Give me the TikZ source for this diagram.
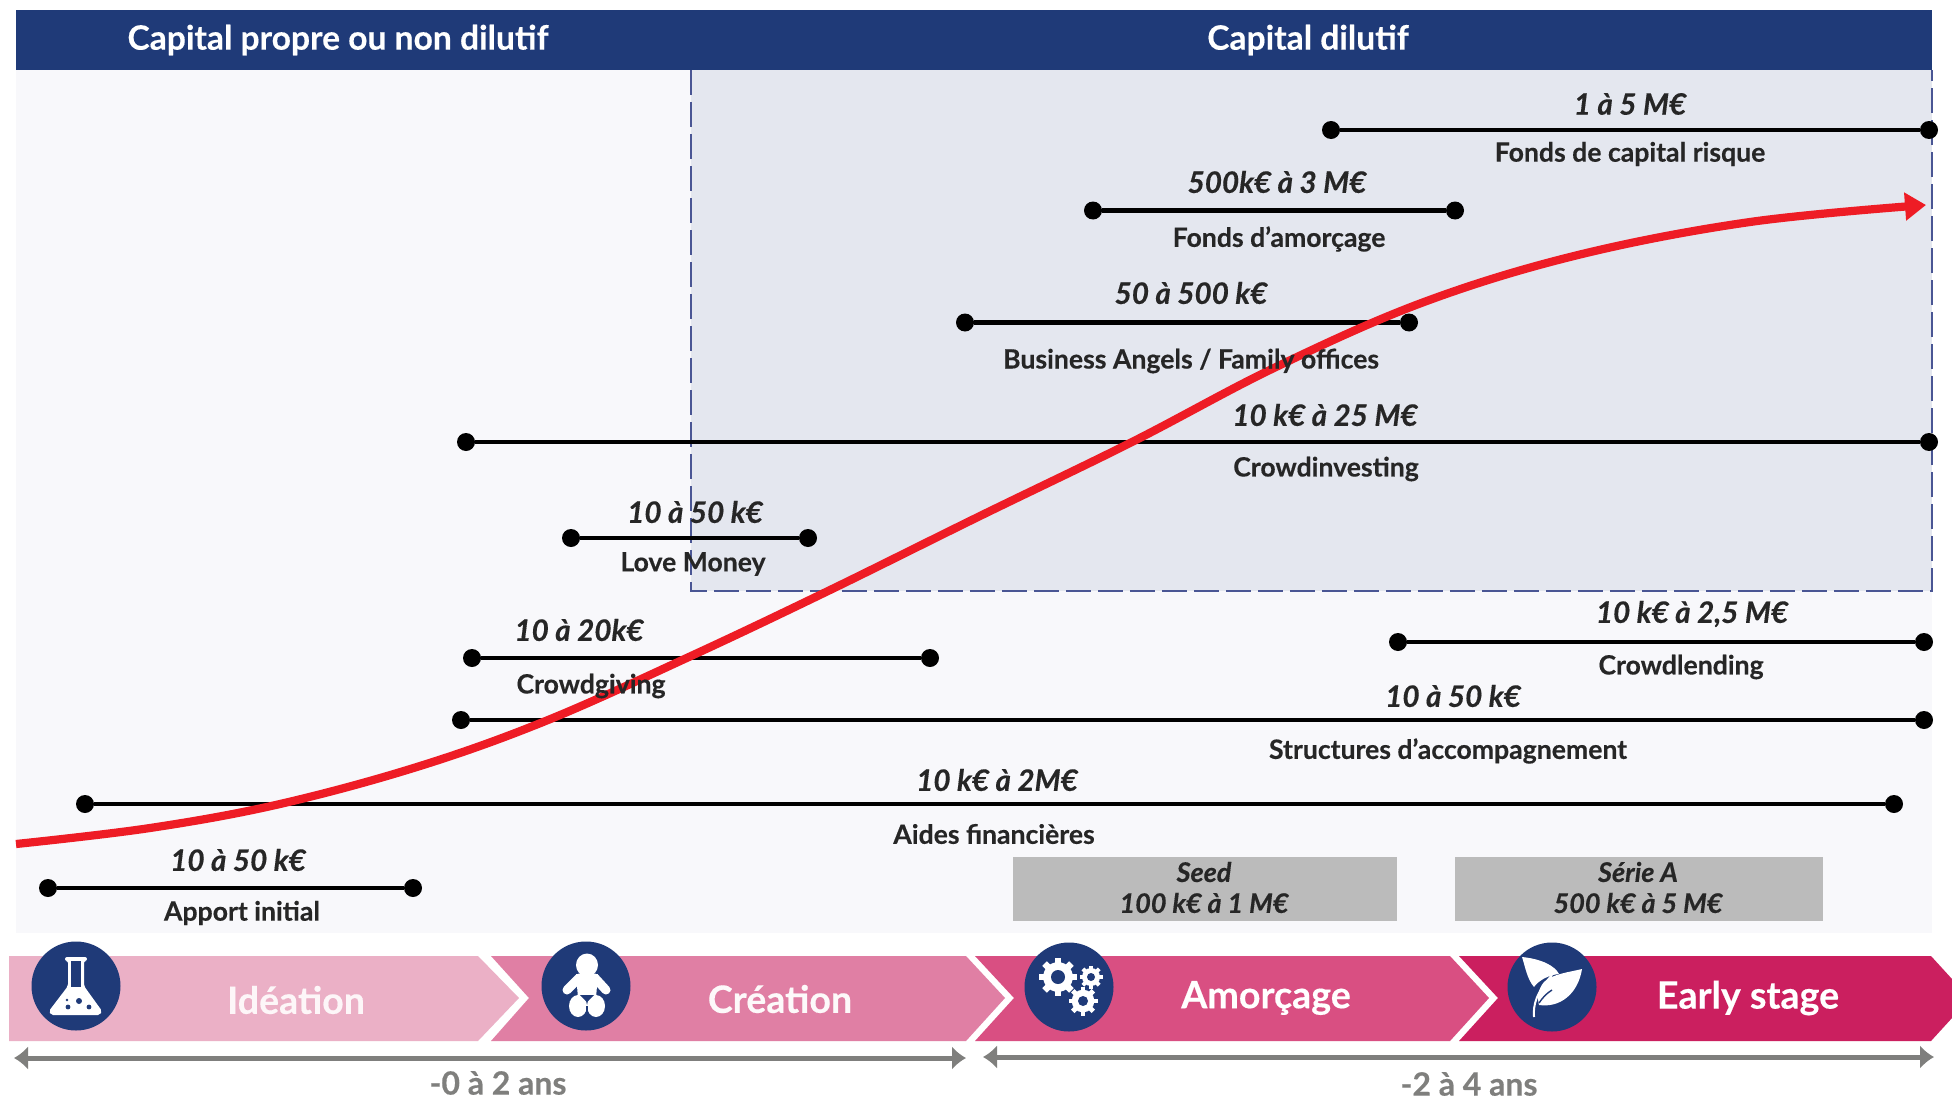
\documentclass[tikz,border=0pt]{standalone}
\usepackage{fontspec}
\setmainfont{Lato}[BoldFeatures={FakeBold=0.35},BoldItalicFeatures={FakeBold=0.35}]
\usetikzlibrary{arrows.meta}
\definecolor{navy}{HTML}{1F3A78}
\definecolor{panelA}{HTML}{F8F8FB}
\definecolor{panelB}{HTML}{E4E7EF}
\definecolor{dashc}{HTML}{4A5694}
\definecolor{stepA}{HTML}{EBB0C6}
\definecolor{stepB}{HTML}{E07FA4}
\definecolor{stepC}{HTML}{D94F82}
\definecolor{stepD}{HTML}{CB1F5F}
\definecolor{greyA}{HTML}{7F7F7D}
\definecolor{boxg}{HTML}{BBBBBB}
\definecolor{redc}{HTML}{EE1C25}
\tikzset{
 x=0.5pt,y=-0.5pt,
 dotnode/.style={circle,fill=black,inner sep=0pt,minimum size=9pt},
 rangeline/.style={draw=black,line width=2.2pt},
 amount/.style={font=\fontsize{14.8}{17}\selectfont\itshape\bfseries,text=black!85,inner sep=0pt},
 fund/.style={font=\fontsize{13.3}{15}\selectfont\bfseries,text=black!85,inner sep=0pt},
 head/.style={font=\fontsize{16.8}{19}\selectfont\bfseries,text=white,inner sep=0pt},
 stagelabel/.style={font=\fontsize{18.8}{21}\selectfont\bfseries,text=white,inner sep=0pt},
 dur/.style={font=\fontsize{16}{18}\selectfont\bfseries,text=greyA,inner sep=0pt},
 iconbg/.style={circle,fill=navy,inner sep=0pt,minimum size=44.5pt},
 roundbox/.style={fill=boxg,inner sep=0pt},
 roundtext/.style={inner sep=0pt,text=black!85,font=\fontsize{13.5}{15.5}\selectfont\itshape\bfseries},
 dura/.style={draw=greyA,line width=2.5pt,{Latex[length=7pt,width=12pt]}-{Latex[length=7pt,width=12pt]}},
}
\newcommand{\rng}[4]{%
 \node[dotnode] (#1a) at (#2,#4) {};
 \node[dotnode] (#1b) at (#3,#4) {};
 \draw[rangeline] (#1a) -- (#1b);
}
\begin{document}
\begin{tikzpicture}
\useasboundingbox (0,0) rectangle (1952,1097);
\fill[white] (0,0) rectangle (1952,1097);
% panels
\fill[panelA] (16,70) rectangle (1932,933);
\fill[panelB] (691,70) rectangle (1932,591);
\draw[dashc,line width=1.4pt,dash pattern=on 12.5pt off 3.5pt] (691,70) -- (691,591) -- (1932,591) -- (1932,70);
% header
\node[fill=navy,minimum width=958pt,minimum height=30pt,inner sep=0pt,anchor=north west] (hdr) at (16,10) {};
\node[head] (h1) at (338,40) {Capital propre ou non dilutif};
\node[head] (h2) at (1308,40) {Capital dilutif};
% ranges
\rng{r1}{1331}{1929}{130}
\rng{r2}{1093}{1455}{210.5}
\rng{r3}{965}{1409}{322.5}
\rng{r4}{466}{1929}{442}
\rng{r5}{571}{808}{538}
\rng{r6}{472}{930}{658}
\rng{r7}{1398}{1924}{642}
\rng{r8}{461}{1924}{720}
\rng{r9}{85}{1894}{804}
\rng{r10}{48}{413}{888}
% growth curve
\draw[redc,line width=4.1pt,-{Triangle[length=10.5pt,width=13.5pt]}]
 plot[smooth,tension=0.6] coordinates {(16,844) (150,828) (280,804) (420,766) (548,720) (691,656) (828,591) (980,516) (1132,442) (1276,367) (1424,302) (1578,255) (1750,222) (1926,205)};
% amounts and funds
\node[amount] (t1) at (1630,104) {1 à 5 M€};
\node[fund] (f1) at (1630,154) {Fonds de capital risque};
\node[amount] (t2) at (1277,182) {500k€ à 3 M€};
\node[fund] (f2) at (1279,239) {Fonds d'amorçage};
\node[amount] (t3) at (1191,293) {50 à 500 k€};
\node[fund] (f3) at (1191,361) {Business Angels / Family offices};
\node[amount] (t4) at (1325,415) {10 k€ à 25 M€};
\node[fund] (f4) at (1326,469) {Crowdinvesting};
\node[amount] (t5) at (695,512) {10 à 50 k€};
\node[fund] (f5) at (693,564) {Love Money};
\node[amount] (t6) at (579,630) {10 à 20k€};
\node[fund] (f6) at (591,686) {Crowdgiving};
\node[amount] (t7) at (1692,614) {10 k€ à 2,5 M€};
\node[fund] (f7) at (1681,667) {Crowdlending};
\node[amount] (t8) at (1453,696) {10 à 50 k€};
\node[fund] (f8) at (1448,751) {Structures d'accompagnement};
\node[amount] (t9) at (997,780) {10 k€ à 2M€};
\node[fund] (f9) at (994,834) {Aides financières};
\node[amount] (t10) at (238,860) {10 à 50 k€};
\node[fund] (f10) at (242,913) {Apport initial};
% rounds
\node[roundbox,minimum width=192pt,minimum height=32pt] (seed) at (1204.5,889) {};
\node[roundbox,minimum width=184pt,minimum height=32pt] (seriea) at (1639,889) {};
\node[roundtext] (seed1) at (1204,872) {Seed};
\node[roundtext] (seed2) at (1204,903) {100 k€ à 1 M€};
\node[roundtext] (ser1) at (1638,872) {Série A};
\node[roundtext] (ser2) at (1638,903) {500 k€ à 5 M€};
% chevrons
\fill[stepA] (9,956) -- (478,956) -- (519,998) -- (478,1041) -- (9,1041) -- cycle;
\fill[stepB] (491,956) -- (966,956) -- (1005,998) -- (966,1041) -- (491,1041) -- (529,998) -- cycle;
\fill[stepC] (975,956) -- (1450,956) -- (1489,998) -- (1450,1041) -- (975,1041) -- (1014,998) -- cycle;
\fill[stepD] (1459,956) -- (1931,956) -- (1952,979) -- (1952,1018) -- (1931,1041) -- (1459,1041) -- (1498,998) -- cycle;
\node[stagelabel,text=white!88!stepA] (s1) at (296,1000) {Idéation};
\node[stagelabel,text=white!95!stepB] (s2) at (780,999) {Création};
\node[stagelabel] (s3) at (1266,998) {Amorçage};
\node[stagelabel] (s4) at (1748,998) {Early stage};
% icon discs
\node[iconbg] (i1) at (76,986) {};
\node[iconbg] (i2) at (586,986) {};
\node[iconbg] (i3) at (1069,987) {};
\node[iconbg] (i4) at (1552,987) {};
% flask
\fill[white,rounded corners=1pt] (65,957) -- (87,957) -- (87,961) -- (84,961) -- (84,986) -- (102,1011) -- (100,1015) -- (51,1015) -- (49,1011) -- (68,986) -- (68,961) -- (65,961) -- cycle;
\fill[navy] (71,961) -- (81,961) -- (81,987) -- (71,987) -- cycle;
\fill[navy] (79,1001) circle (3) (68,1007) circle (2.4) (89,1007) circle (2.4) (67,1000) circle (1.3);
% baby
\fill[white] (587,965) ellipse (11 and 11.5);
\fill[white] (576,974) -- (598,974) -- (596,998) -- (578,998) -- cycle;
\draw[white,line width=4.5pt,line cap=round] (579,978) -- (567,990) (595,978) -- (606,990);
\fill[white] (578,1006) ellipse (9 and 11);
\fill[white] (596,1006) ellipse (9 and 11);
\fill[navy] (580,995) -- (594,995) -- (587,1002) -- cycle;
\draw[navy,line width=0.9pt] (587,1006) -- (587,1018);
% gears
\foreach \gx/\gy/\gr/\gh in {1058/977/19/7, 1091/977/11.5/4, 1083/1001/14.5/5}{
 \fill[white] (\gx,\gy) circle ({\gr*0.78});
 \foreach \ang in {0,45,...,315}{
  \fill[white,rotate around={\ang:(\gx,\gy)}] ({\gx-\gr*0.17},\gy) rectangle ({\gx+\gr*0.17},{\gy-\gr});
 }
 \fill[navy] (\gx,\gy) circle (\gh);
}
% leaf
\fill[white] (1522,957) .. controls (1542,959) and (1555,966) .. (1559,974) .. controls (1548,975) and (1538,981) .. (1534,987) .. controls (1527,979) and (1525,966) .. (1522,957) -- cycle;
\fill[white] (1582,969) .. controls (1570,972) and (1552,974) .. (1544,982) .. controls (1538,989) and (1537,998) .. (1539,1005) .. controls (1560,1008) and (1578,994) .. (1582,969) -- cycle;
\draw[white,line width=1pt] (1534,1017) .. controls (1533,1005) and (1536,993) .. (1552,975);
\draw[navy,line width=0.7pt] (1539,1003) .. controls (1543,997) and (1547,993) .. (1552,990);
% durations
\coordinate (d1a) at (14,1058);
\coordinate (d1b) at (966,1058);
\coordinate (d2a) at (983,1057);
\coordinate (d2b) at (1934,1057);
\draw[dura] (d1a) -- (d1b);
\draw[dura] (d2a) -- (d2b);
\node[dur] (l1) at (498,1083) {-0 à 2 ans};
\node[dur] (l2) at (1469,1084) {-2 à 4 ans};
\end{tikzpicture}
\end{document}
